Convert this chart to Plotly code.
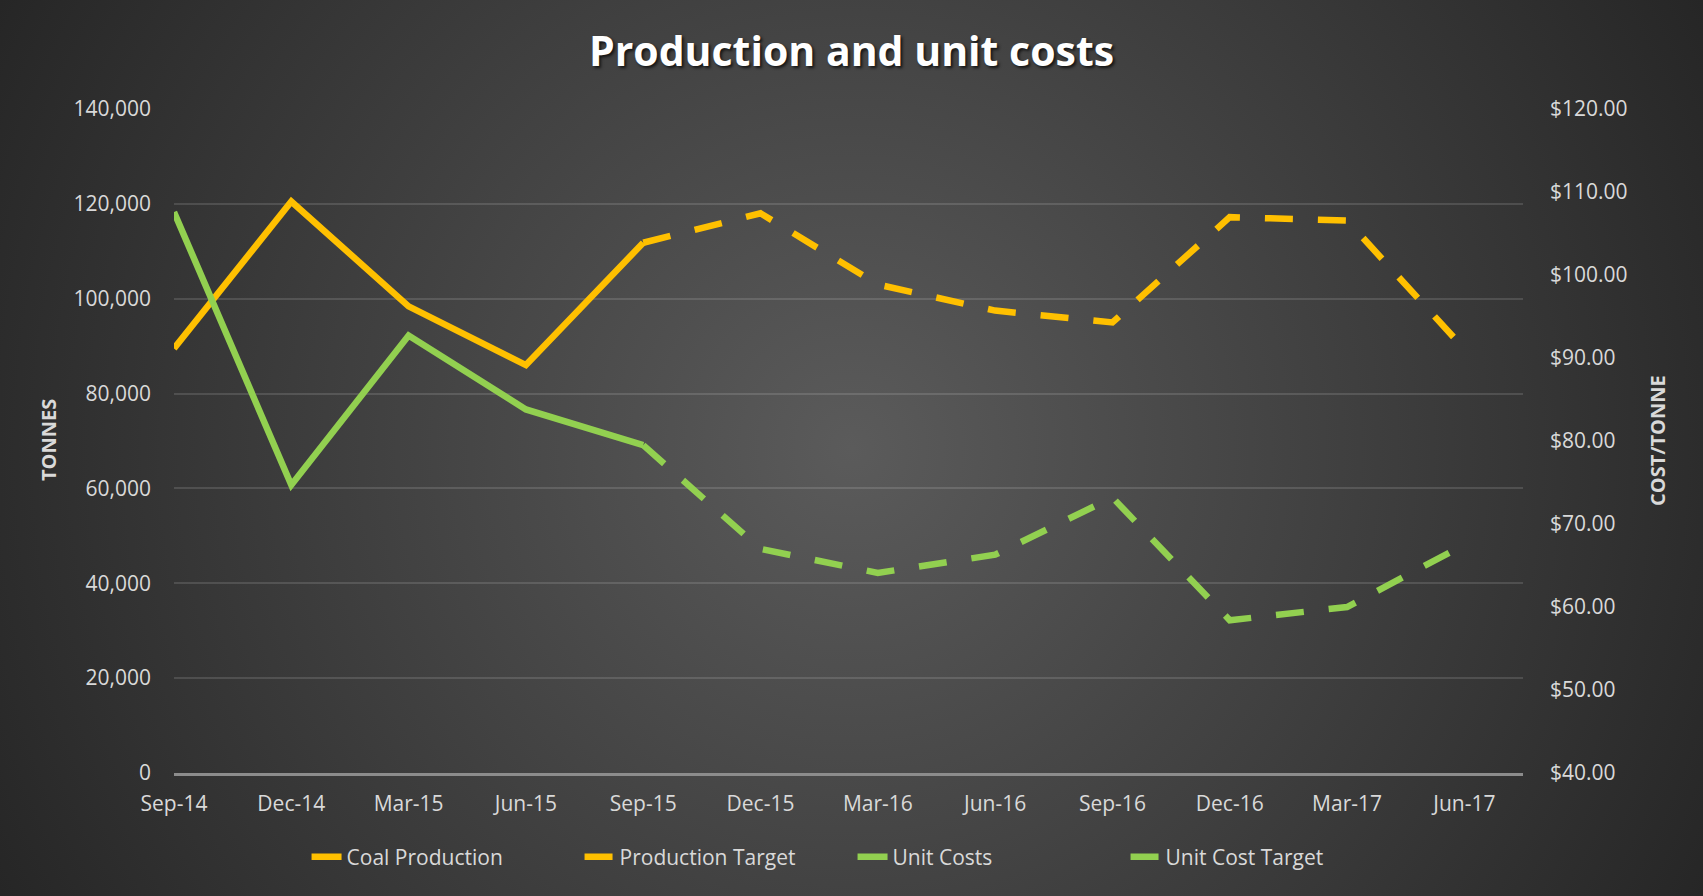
import base64
import plotly.graph_objects as go

quarters = ["Sep-14", "Dec-14", "Mar-15", "Jun-15", "Sep-15", "Dec-15",
            "Mar-16", "Jun-16", "Sep-16", "Dec-16", "Mar-17", "Jun-17"]
coal_production = [89500, 120500, 98400, 86000, 111800,
                   None, None, None, None, None, None, None]
production_target = [None, None, None, None, 111800, 118000,
                     103000, 97500, 95000, 117200, 116500, 89400]
unit_costs = [107.6, 74.7, 92.7, 83.8, 79.5,
              None, None, None, None, None, None, None]
unit_cost_target = [None, None, None, None, 79.5, 67.0,
                    64.1, 66.3, 73.2, 58.4, 60.0, 67.5]

W, H = 1703, 896
ML, MR, MT, MB = 174, 180, 109, 123
PW, PH = W - ML - MR, H - MT - MB

YELLOW = "#FFC000"
GREEN = "#92D050"
TXT = "#D9D9D9"
FONT = "Open Sans"

# radial background like the excel chart style
svg = (f'<svg xmlns="http://www.w3.org/2000/svg" width="{W}" height="{H}">'
       '<defs><radialGradient id="g" gradientUnits="userSpaceOnUse" '
       f'cx="{W/2}" cy="{H/2}" r="962">'
       '<stop offset="0" stop-color="#5b5b5b"/>'
       '<stop offset="1" stop-color="#262626"/></radialGradient></defs>'
       f'<rect width="{W}" height="{H}" fill="url(#g)"/></svg>')
bg = "data:image/svg+xml;base64," + base64.b64encode(svg.encode()).decode()

fig = go.Figure()
fig.add_trace(go.Scatter(x=quarters, y=coal_production, name="Coal Production",
                         mode="lines", line=dict(color=YELLOW, width=6.5)))
fig.add_trace(go.Scatter(x=quarters, y=production_target, name="Production Target",
                         mode="lines", line=dict(color=YELLOW, width=6.5, dash="28px,25px")))
fig.add_trace(go.Scatter(x=quarters, y=unit_costs, name="Unit Costs", yaxis="y2",
                         mode="lines", line=dict(color=GREEN, width=6.5)))
fig.add_trace(go.Scatter(x=quarters, y=unit_cost_target, name="Unit Cost Target", yaxis="y2",
                         mode="lines", line=dict(color=GREEN, width=6.5, dash="28px,25px")))

fig.update_layout(
    width=W, height=H,
    margin=dict(l=ML, r=MR, t=MT, b=MB, autoexpand=False),
    paper_bgcolor="#333333",
    plot_bgcolor="rgba(0,0,0,0)",
    font=dict(family=FONT, color=TXT, size=21),
    images=[dict(source=bg, xref="paper", yref="paper",
                 x=-ML / PW, y=1 + MT / PH, sizex=W / PW, sizey=H / PH,
                 xanchor="left", yanchor="top", sizing="stretch", layer="below")],
    title=dict(text="Production and unit costs", x=0.5, xref="container", xanchor="center",
               y=1 - 52 / H, yref="container", yanchor="middle",
               font=dict(family=FONT, size=41, color="white", weight="bold",
                         shadow="2px 2px 3px rgba(0,0,0,0.7)")),
    xaxis=dict(type="category", range=[0, 11.5], showgrid=False,
               showline=True, linecolor="#8c8c8c", linewidth=2.5,
               ticks="", ticklabelstandoff=10, tickfont=dict(size=21, color=TXT)),
    yaxis=dict(range=[0, 140000], dtick=20000, tickformat=",",
               showgrid=True, gridcolor="rgba(255,255,255,0.13)", gridwidth=1.5,
               zeroline=False, ticks="", ticklabelstandoff=22,
               tickfont=dict(size=21, color=TXT)),
    yaxis2=dict(range=[40, 120], dtick=10, tickprefix="$", tickformat=",.2f",
                overlaying="y", side="right", showgrid=False, zeroline=False,
                ticks="", ticklabelstandoff=26, tickfont=dict(size=21, color=TXT)),
    legend=dict(orientation="h", x=0.503, xanchor="center",
                y=-(857 - (H - MB)) / PH, yanchor="middle",
                font=dict(size=21, color=TXT), bgcolor="rgba(0,0,0,0)",
                entrywidth=228, entrywidthmode="pixels"),
    showlegend=True,
    annotations=[
        dict(text="<b>TONNES</b>", xref="paper", yref="paper",
             x=(48 - ML) / PW, y=1 - (440 - MT) / PH, textangle=-90,
             showarrow=False, xanchor="center", yanchor="middle",
             font=dict(size=20, color=TXT, family=FONT)),
        dict(text="<b>COST/TONNE</b>", xref="paper", yref="paper",
             x=(1657 - ML) / PW, y=1 - (441 - MT) / PH, textangle=-90,
             showarrow=False, xanchor="center", yanchor="middle",
             font=dict(size=20, color=TXT, family=FONT)),
    ],
)

fig.write_html("out.html", config={"displayModeBar": False},
               post_script="document.body.style.margin='0';")
